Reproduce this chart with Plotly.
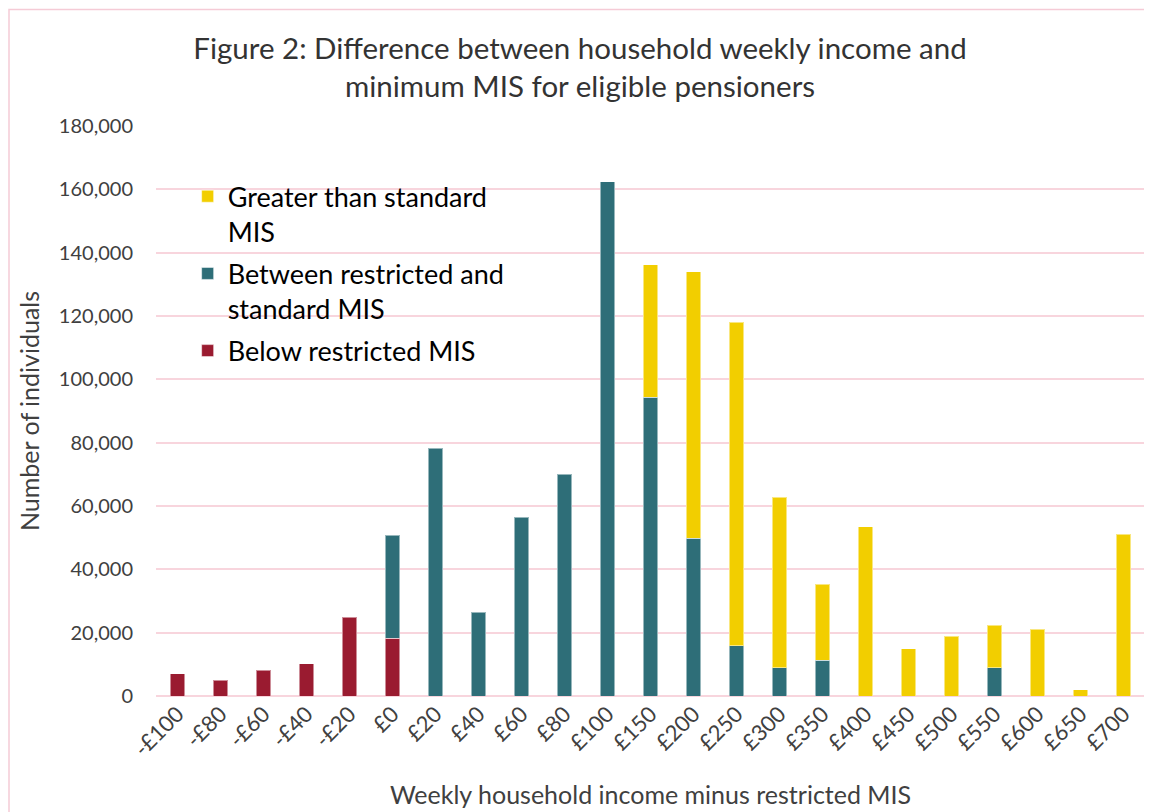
import plotly.graph_objects as go

categories = ["-£100", "-£80", "-£60", "-£40", "-£20", "£0", "£20", "£40", "£60", "£80",
              "£100", "£150", "£200", "£250", "£300", "£350", "£400", "£450", "£500",
              "£550", "£600", "£650", "£700"]
below_restricted = [7000, 4900, 8100, 10200, 24800, 18300, None, None, None, None,
                    None, None, None, None, None, None, None, None, None,
                    None, None, None, None]
between_mis = [None, None, None, None, None, 32400, 78300, 26500, 56500, 70000,
               162400, 94400, 49800, 15800, 9000, 11300, None, None, None,
               9000, None, None, None]
greater_standard = [None, None, None, None, None, None, None, None, None, None,
                    None, 41800, 84200, 102200, 53700, 24000, 53400, 15000, 18800,
                    13400, 21100, 1900, 51100]

FONT = "Lato"
RED = "#9A1B30"
TEAL = "#2E6E78"
YELLOW = "#F2CE00"
GRID = "#F8D5DD"
EDGE = dict(color="rgba(255,255,255,0.5)", width=1)

fig = go.Figure()
fig.add_trace(go.Bar(x=categories, y=below_restricted, name="Below restricted MIS",
                     marker=dict(color=RED, line=EDGE), legendgroup="c", legendrank=3))
fig.add_trace(go.Bar(x=categories, y=between_mis, name="Between restricted and<br>standard MIS",
                     marker=dict(color=TEAL, line=EDGE), legendgroup="b", legendrank=2))
fig.add_trace(go.Bar(x=categories, y=greater_standard, name="Greater than standard<br>MIS",
                     marker=dict(color=YELLOW, line=EDGE), legendgroup="a", legendrank=1))

W, H = 1144, 804
fig.update_layout(
    width=W, height=H,
    barmode="stack", bargap=0.67,
    paper_bgcolor="white", plot_bgcolor="white",
    margin=dict(l=148, r=7, t=118, b=114),
    font=dict(family=FONT, color="#404040"),
    title=dict(text="Figure 2: Difference between household weekly income and<br>minimum MIS for eligible pensioners",
               x=0.5, xanchor="center", y=1 - 51 / H, yanchor="top",
               font=dict(family=FONT, size=29.5, color="#333333")),
    legend=dict(x=0.032, y=0.919, xanchor="left", yanchor="top",
                traceorder="grouped", tracegroupgap=4, valign="top",
                font=dict(family=FONT, size=27, color="#000000"),
                bgcolor="rgba(0,0,0,0)"),
    showlegend=True,
)
fig.update_xaxes(type="category", showgrid=False, showline=False, zeroline=False,
                 tickangle=-45, tickfont=dict(size=22, color="#404040"),
                 title=dict(text="Weekly household income minus restricted MIS",
                            font=dict(size=25, color="#404040"), standoff=26))
fig.update_yaxes(range=[0, 180000], dtick=20000, tickformat=",",
                 showgrid=True, gridcolor=GRID, gridwidth=1.5,
                 zeroline=True, zerolinecolor=GRID, zerolinewidth=1.5,
                 showline=False, ticklabelstandoff=22,
                 tickfont=dict(size=20, color="#404040"),
                 title=dict(text="Number of individuals", font=dict(size=25, color="#404040"),
                            standoff=12))
fig.add_shape(type="rect", xref="paper", yref="paper",
              x0=-147 / 989, x1=1.05, y0=-0.3, y1=1 + 117 / 572,
              line=dict(color="#F5CBD6", width=1.5), fillcolor="rgba(0,0,0,0)", layer="below")

fig.write_html("out.html")
